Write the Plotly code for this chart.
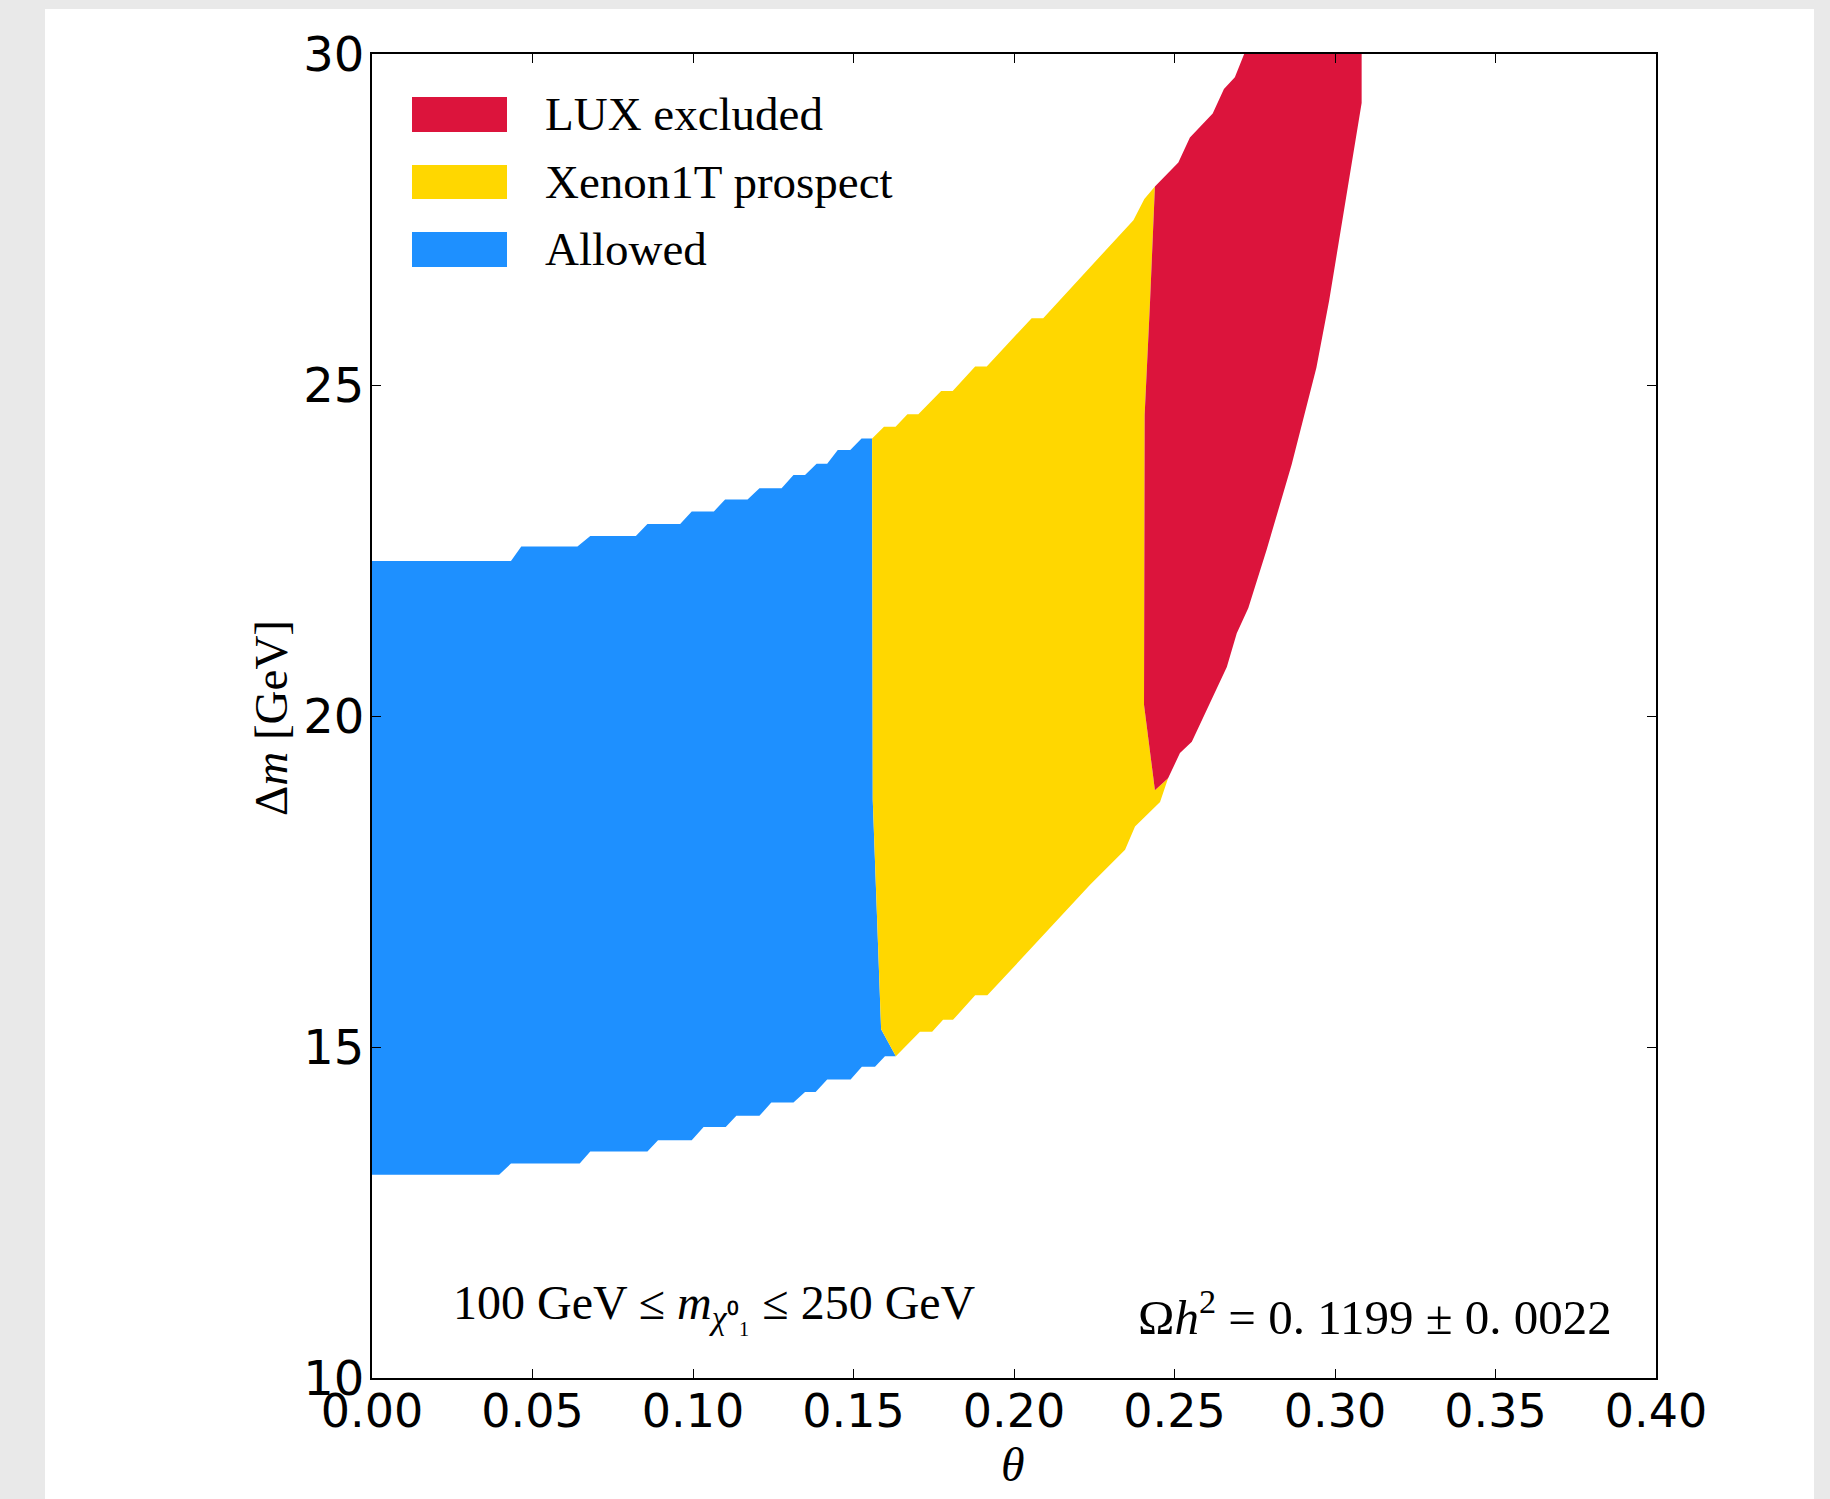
import plotly.graph_objects as go

# ---- region boundaries in the (theta, Delta m) plane ----
allowed_theta = [0.0, 0.0, 0.0433, 0.0465, 0.064, 0.068, 0.0822, 0.0858, 0.096, 0.0996,
                 0.1065, 0.110, 0.117, 0.1207, 0.1276, 0.1313, 0.1349, 0.1385, 0.1418,
                 0.1451, 0.1490, 0.1525, 0.1558,
                 0.1560, 0.1586, 0.1632,
                 0.1598, 0.1567, 0.1526, 0.1491, 0.1418, 0.1382, 0.1349, 0.1313, 0.1244,
                 0.1207, 0.1135, 0.1102, 0.1033, 0.0996, 0.0891, 0.0858, 0.068, 0.0647,
                 0.0433, 0.0396, 0.0]
allowed_dm = [13.07, 22.34, 22.34, 22.56, 22.56, 22.72, 22.72, 22.90, 22.90, 23.09,
              23.09, 23.27, 23.27, 23.44, 23.44, 23.64, 23.64, 23.81, 23.81,
              24.02, 24.02, 24.19, 24.19,
              18.73, 15.27, 14.86,
              14.86, 14.70, 14.70, 14.51, 14.51, 14.32, 14.32, 14.16, 14.16,
              13.96, 13.96, 13.79, 13.79, 13.59, 13.59, 13.42, 13.42, 13.24,
              13.24, 13.07, 13.07]

xenon_theta = [0.1558, 0.1595, 0.1631, 0.1668, 0.1702, 0.1773, 0.1809, 0.1879, 0.1915,
               0.2055, 0.2091, 0.2372, 0.2406, 0.2439,
               0.2424, 0.2407, 0.2405, 0.2439,
               0.2480, 0.2455, 0.2377, 0.2346, 0.2237, 0.1917, 0.1879, 0.1810, 0.1779,
               0.1745, 0.1707, 0.1632,
               0.1586, 0.1560, 0.1558]
xenon_dm = [24.19, 24.37, 24.37, 24.56, 24.56, 24.91, 24.91, 25.28, 25.28,
            26.01, 26.01, 27.49, 27.81, 28.00,
            26.28, 24.55, 20.17, 18.88,
            19.06, 18.70, 18.33, 17.98, 17.45, 15.78, 15.78, 15.41, 15.41,
            15.23, 15.23, 14.86,
            15.27, 18.73, 24.19]

lux_theta = [0.2717, 0.3083, 0.3083, 0.2982, 0.2942, 0.2865, 0.2787, 0.2730, 0.2694,
             0.2663, 0.2554, 0.2517, 0.2480, 0.2439,
             0.2405, 0.2407, 0.2424, 0.2439,
             0.2512, 0.2548, 0.2619, 0.2654, 0.2688, 0.2717]
lux_dm = [30.00, 30.00, 29.26, 26.28, 25.26, 23.80, 22.51, 21.63, 21.25,
          20.74, 19.61, 19.44, 19.06, 18.88,
          20.17, 24.55, 26.28, 28.00,
          28.36, 28.74, 29.10, 29.47, 29.65, 30.00]

region_names = ["LUX excluded", "Xenon1T prospect", "Allowed"]
region_colors = ["crimson", "gold", "dodgerblue"]

x_ticks = [0.00, 0.05, 0.10, 0.15, 0.20, 0.25, 0.30, 0.35, 0.40]
x_tick_labels = ["0.00", "0.05", "0.10", "0.15", "0.20", "0.25", "0.30", "0.35", "0.40"]
y_ticks = [10, 15, 20, 25, 30]
y_tick_labels = ["10", "15", "20", "25", "30"]

# ---- canvas geometry (pixels) ----
FIG_W, FIG_H = 1830, 1499
L, R, T, B = 372, 1656, 54, 1378
SERIF = "Liberation Serif"
SANS = "DejaVu Sans"


def px_x(x):
    return (x - L) / (R - L)


def px_y(y):
    return (B - y) / (B - T)


fig = go.Figure()

regions = [
    (allowed_theta, allowed_dm, region_colors[2], region_names[2]),
    (xenon_theta, xenon_dm, region_colors[1], region_names[1]),
    (lux_theta, lux_dm, region_colors[0], region_names[0]),
]
for th, dm, col, name in regions:
    fig.add_trace(go.Scatter(
        x=th, y=dm, mode="lines", fill="toself", fillcolor=col,
        line=dict(width=0, color=col), name=name, showlegend=False,
        hoverinfo="skip",
    ))

shapes = [
    # white figure sheet on the grey page
    dict(type="rect", xref="paper", yref="paper", layer="below",
         x0=px_x(45), x1=px_x(1814), y0=px_y(1510), y1=px_y(9),
         fillcolor="white", line=dict(width=0)),
]
annotations = []

# legend: colour patches with labels
patch_rows = [(97, 132), (165, 199), (232, 267)]
for (y_top, y_bot), col, name in zip(patch_rows, region_colors, region_names):
    shapes.append(dict(type="rect", xref="paper", yref="paper", layer="above",
                       x0=px_x(412), x1=px_x(507), y0=px_y(y_bot), y1=px_y(y_top),
                       fillcolor=col, line=dict(width=0)))
    annotations.append(dict(xref="paper", yref="paper", x=px_x(543),
                            y=px_y((y_top + y_bot) / 2), xanchor="left", yanchor="middle",
                            text=name, showarrow=False,
                            font=dict(family=SERIF, size=47, color="black")))

annotations += [
    dict(xref="paper", yref="paper", x=px_x(451), y=px_y(1306),
         xanchor="left", yanchor="middle", showarrow=False,
         text="100 GeV ≤ <i>m</i><sub><i>χ</i>⁰₁</sub> ≤ 250 GeV",
         font=dict(family=SERIF, size=48, color="black")),
    dict(xref="paper", yref="paper", x=px_x(1614), y=px_y(1313),
         xanchor="right", yanchor="middle", showarrow=False,
         text="Ω<i>h</i><sup>2</sup> = 0. 1199 ± 0. 0022",
         font=dict(family=SERIF, size=49, color="black")),
    dict(xref="paper", yref="paper", x=px_x(1013), y=px_y(1464),
         xanchor="center", yanchor="middle", showarrow=False,
         text="<i>θ</i>", font=dict(family=SERIF, size=48, color="black")),
    dict(xref="paper", yref="paper", x=px_x(271), y=px_y(718),
         xanchor="center", yanchor="middle", showarrow=False, textangle=-90,
         text="Δ<i>m</i> [GeV]", font=dict(family=SERIF, size=47, color="black")),
]

axis_common = dict(
    showgrid=False, zeroline=False, showline=True, linecolor="black", linewidth=2,
    mirror="ticks", ticks="inside", ticklen=9, tickwidth=1.3, tickcolor="black",
)

fig.update_layout(
    width=FIG_W, height=FIG_H,
    margin=dict(l=L, r=FIG_W - R, t=T, b=FIG_H - B, pad=0),
    paper_bgcolor="#e9e9e9", plot_bgcolor="white",
    showlegend=False,
    xaxis=dict(range=[0, 0.4], tickvals=x_ticks, ticktext=x_tick_labels,
               ticklabelstandoff=-8, tickfont=dict(family=SANS, size=46, color="black"),
               **axis_common),
    yaxis=dict(range=[10, 30], tickvals=y_ticks, ticktext=y_tick_labels,
               ticklabelstandoff=-4, tickfont=dict(family=SANS, size=48, color="black"),
               **axis_common),
    shapes=shapes, annotations=annotations,
)

fig.write_html("out.html")
